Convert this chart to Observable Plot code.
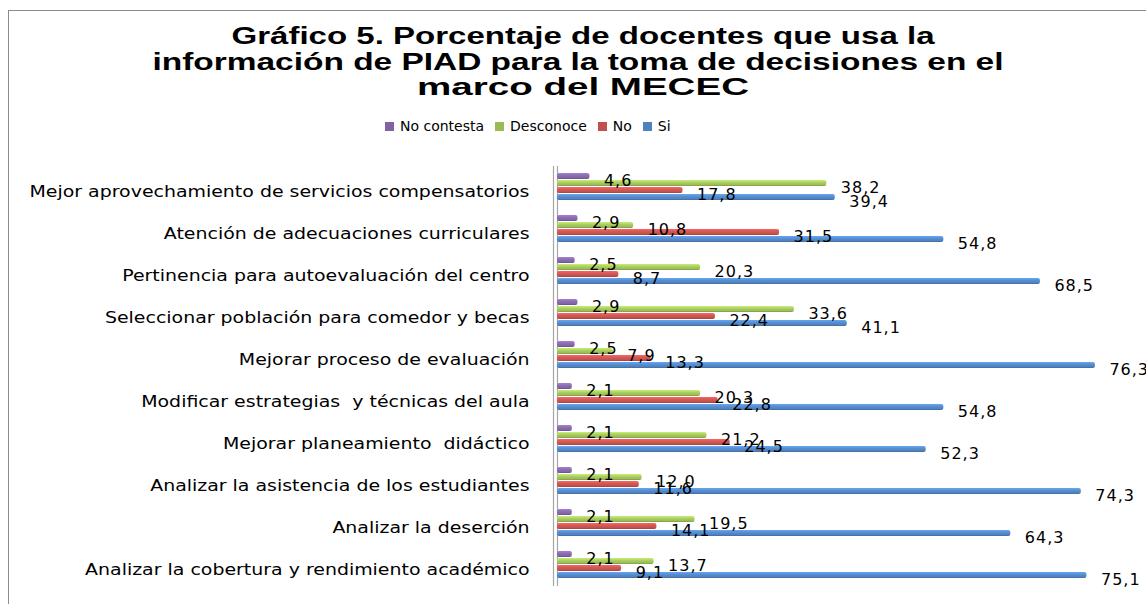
<!DOCTYPE html>
<html>
<head>
<meta charset="utf-8">
<script src="https://cdn.jsdelivr.net/npm/d3@7"></script>
<script src="https://cdn.jsdelivr.net/npm/@observablehq/plot@0.6"></script>
<style>
  body { margin: 0; background: #fff; }
  #wrap { position: relative; width: 1146px; height: 604px; overflow: hidden; background: #fff; }
  #frame { position: absolute; left: 8px; top: 10px; width: 1200px; height: 700px;
           border-left: 1.5px solid #8c8c8c; border-top: 1.5px solid #8c8c8c; }
  #chart { position: absolute; left: 0; top: 0; }
  #title { position: absolute; left: 0; top: 0; }
  #title text { font-family: "Liberation Sans", Arial, sans-serif; font-weight: bold; font-size: 23px; fill: #000; }
  #legend { position: absolute; left: 385px; top: 118px; display: flex;
            font-family: "DejaVu Sans", sans-serif; font-size: 14px; color: #000; }
  .item { display: flex; align-items: center; margin-right: 11px; }
  .sw { width: 9px; height: 9px; margin-right: 6px; }
</style>
</head>
<body>
<div id="wrap">
  <div id="frame"></div>
  <div id="chart"></div>
  <svg id="title" width="1146" height="110">
    <text x="583" y="44" text-anchor="middle" textLength="703" lengthAdjust="spacingAndGlyphs">Gráfico 5. Porcentaje de docentes que usa  la</text>
    <text x="578" y="70" text-anchor="middle" textLength="851" lengthAdjust="spacingAndGlyphs">información de PIAD para la toma de decisiones en el</text>
    <text x="583" y="95" text-anchor="middle" textLength="332" lengthAdjust="spacingAndGlyphs">marco del MECEC</text>
  </svg>
  <div id="legend"></div>
</div>
<script>
// ---- data ----
const categories = [
  "Mejor aprovechamiento de servicios compensatorios",
  "Atención de adecuaciones curriculares",
  "Pertinencia para autoevaluación del centro",
  "Seleccionar población para comedor y becas",
  "Mejorar proceso de evaluación",
  "Modificar estrategias  y técnicas del aula",
  "Mejorar planeamiento  didáctico",
  "Analizar la asistencia de los estudiantes",
  "Analizar la deserción",
  "Analizar la cobertura y rendimiento académico"
];
const seriesNames = ["No contesta", "Desconoce", "No", "Si"];
const noContesta = [4.6, 2.9, 2.5, 2.9, 2.5, 2.1, 2.1, 2.1, 2.1, 2.1];
const desconoce  = [38.2, 10.8, 20.3, 33.6, 7.9, 20.3, 21.2, 12.0, 19.5, 13.7];
const no         = [17.8, 31.5, 8.7, 22.4, 13.3, 22.8, 24.5, 11.6, 14.1, 9.1];
const si         = [39.4, 54.8, 68.5, 41.1, 76.3, 54.8, 52.3, 74.3, 64.3, 75.1];
const seriesValues = [noContesta, desconoce, no, si];
const seriesColors = ["#8064A2", "#9BBB59", "#C0504D", "#4F81BD"];

// ---- build table ----
const rows = [];
categories.forEach((c, i) => {
  seriesNames.forEach((s, j) => rows.push({category: c, series: s, value: seriesValues[j][i]}));
});
const fmt = v => v.toFixed(1).replace(".", ",");
const gradIds = seriesNames.map((s, j) => "grad" + j);

const plot = Plot.plot({
  width: 1146, height: 604,
  marginTop: 166, marginBottom: 18, marginLeft: 557, marginRight: 25,
  x: {domain: [0, 80], axis: null},
  y: {domain: seriesNames, paddingInner: 0.1, paddingOuter: 0.68, axis: null},
  fy: {domain: categories, padding: 0},
  color: {domain: seriesNames, range: gradIds.map(id => `url(#${id})`)},
  style: {fontFamily: "DejaVu Sans", fontSize: "15px", background: "transparent", color: "#000"},
  marks: [
    Plot.axisFy({anchor: "left", label: null, tickSize: 0, tickPadding: 28, dy: 5, fontSize: 15}),
    Plot.ruleX([0], {stroke: "#a6a6a6", strokeWidth: 1.2, dx: -4}),
    Plot.ruleX([0], {stroke: "#a6a6a6", strokeWidth: 1.2}),
    Plot.barX(rows, {x: "value", y: "series", fy: "category", fill: "series", rx: 2}),
    Plot.text(rows, {x: "value", y: "series", fy: "category", text: d => fmt(d.value),
                     dx: 14, dy: 4, textAnchor: "start", fill: "#000", fontSize: 16})
  ]
});

// gradients for the 3D-like bars
const shade = (c, k) => d3.rgb(c)[k > 0 ? "brighter" : "darker"](Math.abs(k)).formatHex();
const defs = seriesColors.map((c, j) => `
  <linearGradient id="${gradIds[j]}" x1="0" y1="0" x2="0" y2="1">
    <stop offset="0" stop-color="${shade(c, 0.7)}"/>
    <stop offset="0.45" stop-color="${shade(c, 0.25)}"/>
    <stop offset="0.8" stop-color="${c}"/>
    <stop offset="1" stop-color="${shade(c, -0.6)}"/>
  </linearGradient>`).join("");
plot.insertAdjacentHTML("afterbegin", `<defs>${defs}</defs>`);
document.getElementById("chart").appendChild(plot);

// value labels: slight letter spacing like the reference
plot.querySelectorAll("g[aria-label='text'] text").forEach(t => t.style.letterSpacing = "1px");

// category labels: the reference font is horizontally wide; stretch glyphs uniformly
const catTexts = [...plot.querySelectorAll("g[aria-label^='fy-axis'] text")];
if (catTexts.length) {
  const first = catTexts.find(t => t.textContent.startsWith("Mejor aprovechamiento")) || catTexts[0];
  const k = 500 / first.getComputedTextLength();
  catTexts.forEach(t => {
    const w = t.getComputedTextLength();
    t.setAttribute("textLength", (w * k).toFixed(1));
    t.setAttribute("lengthAdjust", "spacingAndGlyphs");
  });
}

// legend
const lg = document.getElementById("legend");
seriesNames.forEach((s, j) => {
  const it = document.createElement("div");
  it.className = "item";
  it.innerHTML = `<span class="sw" style="background:${seriesColors[j]}"></span><span>${s}</span>`;
  lg.appendChild(it);
});
</script>
</body>
</html>
